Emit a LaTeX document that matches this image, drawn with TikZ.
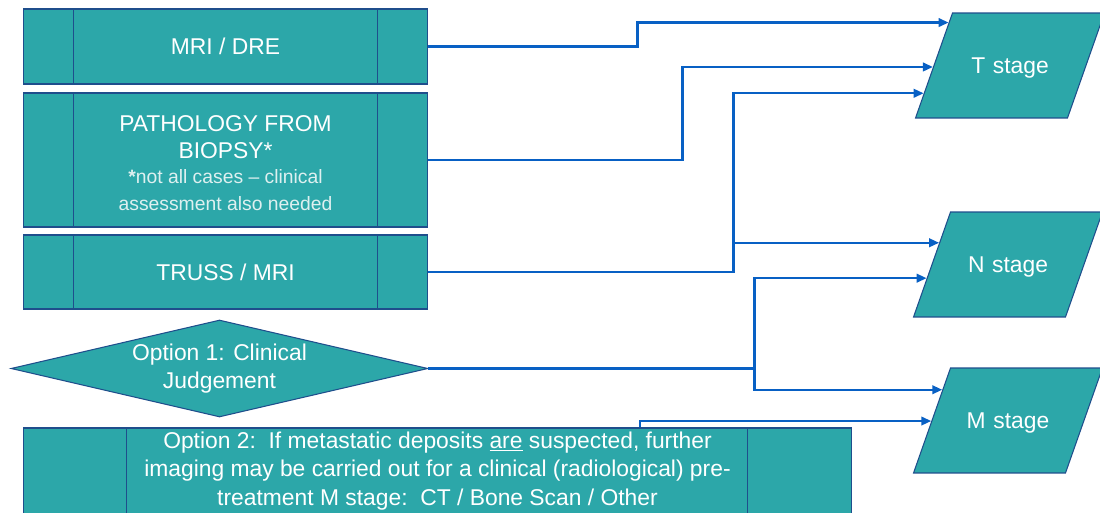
\documentclass[tikz,border=0pt]{standalone}
\usepackage{fontspec}
\setmainfont{Liberation Sans}
\usepackage{tikz}
\usetikzlibrary{positioning}
\usetikzlibrary{calc}
\usetikzlibrary{arrows.meta}
\usetikzlibrary{shapes.geometric}

\definecolor{tealfill}{RGB}{44,167,169}
\definecolor{edgeblue}{RGB}{31,78,140}
\definecolor{linkblue}{RGB}{8,96,196}
\definecolor{paletext}{RGB}{222,240,240}

\tikzset{
	shape box/.style={draw=edgeblue, line width=0.6pt, fill=tealfill, text=white, align=center, inner sep=2pt, font=\fontsize{13}{15}\selectfont},
	procbox/.style 2 args={shape box, rectangle, path picture={
			\draw[edgeblue, line width=0.6pt] ([xshift=#1]path picture bounding box.south west) -- ([xshift=#1]path picture bounding box.north west);
			\draw[edgeblue, line width=0.6pt] ([xshift=-#2]path picture bounding box.south east) -- ([xshift=-#2]path picture bounding box.north east);}},
	stagebox/.style={shape box, trapezium, trapezium left angle=70.6, trapezium right angle=109.4, inner sep=0pt, text width=2.3cm, text height=1.21cm, text depth=0.89cm},
	conn/.style={draw=linkblue, line width=1.3pt, -{Triangle[length=2mm, width=1.7mm]}},
}

\begin{document}
\begin{tikzpicture}[x=0.02cm, y=-0.02cm]
		\useasboundingbox (0,0) rectangle (1100,513);
		% left column
		\node[procbox={1.01cm}{1cm}, minimum width=8.1cm, minimum height=1.5cm] (mri) at (225.5,46.5) {MRI / DRE};
		\node[procbox={1.01cm}{1cm}, minimum width=8.1cm, minimum height=2.68cm] (biopsy) at (225.5,160) {\rule{0pt}{12.6pt}PATHOLOGY FROM\\BIOPSY*\\[-0.5pt]
			\fontsize{11}{13.6}\selectfont\textcolor{paletext}{\textbf{*}not all cases -- clinical}\\\fontsize{11}{13.6}\selectfont\textcolor{paletext}{assessment also needed}};
		\node[procbox={1.01cm}{1cm}, minimum width=8.1cm, minimum height=1.48cm] (truss) at (225.5,272) {TRUSS / MRI};
		\node[shape box, diamond, shape aspect=4.3, minimum width=8.34cm, minimum height=1.94cm, inner sep=0pt, font=\fontsize{13}{16}\selectfont] (opt1) at (219.5,368.5) {Option 1: Clinical\\Judgement};
		\node[procbox={2.06cm}{2.08cm}, minimum width=16.58cm, minimum height=1.64cm, font=\fontsize{13}{16.4}\selectfont] (opt2) at (437.5,471) {Option 2:\ \ If metastatic deposits \underline{are} suspected, further\\imaging may be carried out for a clinical (radiological) pre-\\treatment M stage:\ \ CT / Bone Scan / Other};
		% stages
		\node[stagebox] (T) at (1010,65.5) {T stage};
		\node[stagebox] (N) at (1008,264.5) {N stage};
		\node[stagebox] (M) at (1008,420.5) {M stage};
		\coordinate (t1) at ($(T.top left corner)!0.095!(T.bottom left corner)$);
		\coordinate (t2) at ($(T.top left corner)!0.514!(T.bottom left corner)$);
		\coordinate (t3) at ($(T.top left corner)!0.762!(T.bottom left corner)$);
		\coordinate (n1) at ($(N.top left corner)!0.295!(N.bottom left corner)$);
		\coordinate (n2) at ($(N.top left corner)!0.629!(N.bottom left corner)$);
		\coordinate (m1) at ($(M.top left corner)!0.21!(M.bottom left corner)$);
		\coordinate (m2) at ($(M.top left corner)!0.505!(M.bottom left corner)$);
		\draw[conn] (mri.east) -- ++(209,0) |- (t1);
		\draw[conn] (biopsy.east) -- ++(254,0) |- (t2);
		\draw[conn] (truss.east) -- ++(305,0) |- (t3);
		\draw[conn] (truss.east) -- ++(305,0) |- (n1);
		\draw[conn] (opt1.east) -- ++(326,0) |- (n2);
		\draw[conn] (opt1.east) -- ++(326,0) |- (m1);
		\draw[conn] ([xshift=4.05cm]opt2.north) |- (m2);
	\end{tikzpicture}
\end{document}
